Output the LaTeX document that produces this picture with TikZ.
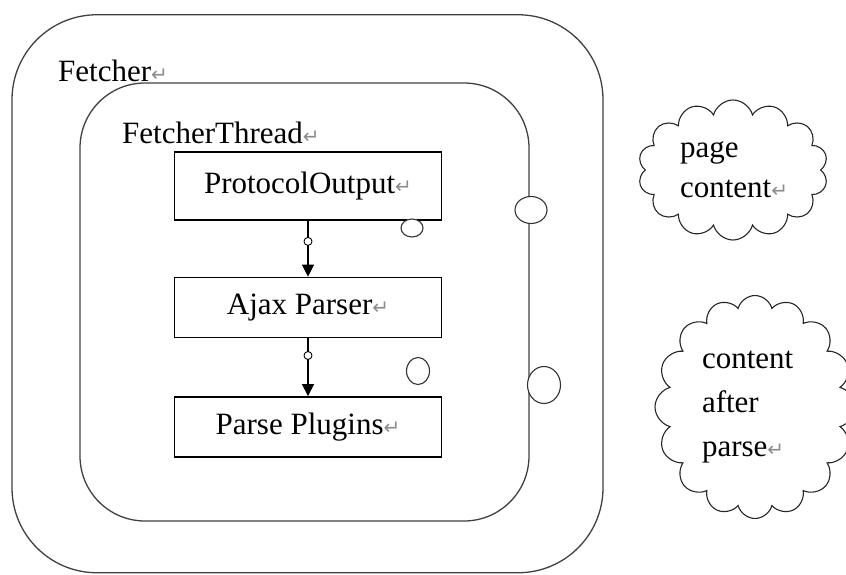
\documentclass[tikz,border=0pt]{standalone}
\usepackage{fontspec}
\setmainfont{Liberation Serif}
\newfontfamily\markfont{DejaVu Sans}
\usetikzlibrary{shapes.geometric, shapes.symbols, positioning, arrows.meta}
\newcommand{\pmark}{{\markfont\fontsize{20}{20}\selectfont\color{black!45}↵}}
\tikzset{
  shell/.style={rectangle, rounded corners=#1, draw=black!75, line width=1.3pt},
  stage/.style={rectangle, minimum width=267pt, minimum height=60pt, text centered, draw=black, line width=1.4pt},
  bubble/.style={cloud, cloud puffs=#1, cloud ignores aspect, draw=black!85, line width=1.1pt, align=left, text width=106pt},
  hole/.style={ellipse, draw=black!80, fill=white, line width=1.1pt, inner sep=0pt},
  valve/.style={circle, draw=black, fill=white, line width=0.9pt, inner sep=0pt, minimum size=8pt},
  arrow/.style={line width=1.2pt, -{Triangle[length=12pt, width=12pt]}}
}
\begin{document}
\begin{tikzpicture}[x=1pt, y=-1pt, every node/.style={font=\fontsize{31}{40}\selectfont}]
  \useasboundingbox (0,0) rectangle (846,575);

  % frames
  \node (outer) [shell=85pt, minimum width=591pt, minimum height=558pt] at (307.5,293.75) {};
  \node (inner) [shell=65pt, minimum width=449pt, minimum height=438pt] at (304.5,302) {};
  \node (fetcher) [anchor=base west, inner sep=0pt] at (58,82) {Fetcher\pmark};
  \node (thread) [anchor=base west, inner sep=0pt] at (122,143) {FetcherThread\pmark};

  % processing chain
  \node (proto) [stage, minimum height=68pt] at (308,186) {ProtocolOutput\pmark};
  \node (ajax) [stage, below=56pt of proto] {Ajax Parser\pmark};
  \node (plugins) [stage, below=58pt of ajax] {Parse Plugins\pmark};

  \draw [arrow] (proto) -- node[valve, pos=.37] {} (ajax);
  \draw [arrow] (ajax) -- node[valve, pos=.3] {} (plugins);

  % ports
  \node (h1) [hole, minimum width=22pt, minimum height=18pt] at (412,228) {};
  \node (h2) [hole, minimum width=23pt, minimum height=27pt] at (418,371) {};
  \node (h3) [hole, minimum width=32pt, minimum height=27pt] at (531,210) {};
  \node (h4) [hole, minimum width=33pt, minimum height=37pt] at (544,385) {};

  % data
  \node (page) [bubble=14, minimum width=190pt, minimum height=140pt] at (733,170) {page\\content\pmark};
  \node (parsed) [bubble=16, minimum width=200pt, minimum height=223pt] at (755,407) {content\\[4pt]after\\[4pt]parse\pmark};
\end{tikzpicture}
\end{document}
